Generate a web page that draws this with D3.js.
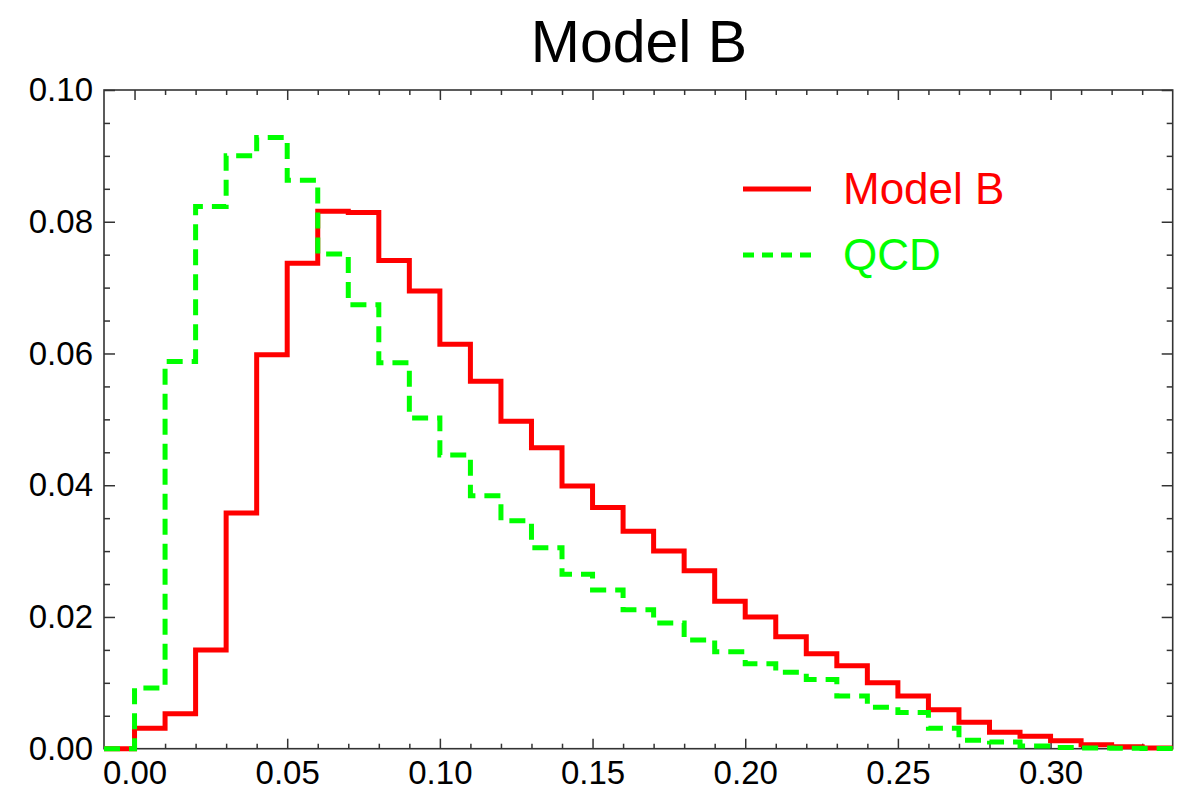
<!DOCTYPE html>
<html>
<head>
<meta charset="utf-8">
<script src="https://cdn.jsdelivr.net/npm/d3@7"></script>
<style>
  body { margin: 0; background: #fff; }
  text { font-family: "Liberation Sans", Arial, sans-serif; }
</style>
</head>
<body>
<div id="chart"></div>
<script>
var svgWidth = 1182;
var svgHeight = 794;

// bin edges start at -0.01, width 0.01
var binStart = -0.01;
var binWidth = 0.01;

var modelB = [0, 0.0031, 0.0053, 0.0150, 0.0358, 0.0598, 0.0737, 0.0816, 0.0814, 0.0741,
  0.0695, 0.0614, 0.0558, 0.0497, 0.0457, 0.0399, 0.0366, 0.0330, 0.0300, 0.0270,
  0.0224, 0.0200, 0.0170, 0.0144, 0.0126, 0.0100, 0.0080, 0.0059, 0.0040, 0.0025,
  0.0019, 0.0012, 0.0006, 0.0003, 0.0001];

var qcd = [0, 0.0092, 0.0588, 0.0823, 0.0900, 0.0928, 0.0863, 0.0751, 0.0674, 0.0586,
  0.0502, 0.0446, 0.0384, 0.0346, 0.0305, 0.0265, 0.0241, 0.0211, 0.0191, 0.0165,
  0.0147, 0.0129, 0.0116, 0.0105, 0.0080, 0.0063, 0.0055, 0.0031, 0.0013, 0.0010,
  0.0004, 0.0002, 0.0001, 0.00005, 0.00003];

var xTicks = [0.00, 0.05, 0.10, 0.15, 0.20, 0.25, 0.30];
var yTicks = [0.00, 0.02, 0.04, 0.06, 0.08, 0.10];

var margin = { top: 90, right: 9.3, bottom: 45.3, left: 104 };
var width = svgWidth - margin.left - margin.right;
var height = svgHeight - margin.top - margin.bottom;

var svg = d3.select("#chart")
  .append("svg")
  .attr("width", svgWidth)
  .attr("height", svgHeight);

var chartGroup = svg.append("g")
  .attr("transform", `translate(${margin.left}, ${margin.top})`);

var xScale = d3.scaleLinear().domain([-0.01, 0.34]).range([0, width]);
var yScale = d3.scaleLinear().domain([0, 0.10]).range([height, 0]);

// minor ticks
var xMinor = d3.range(0, 34).map(d => d * 0.01).filter(d => Math.round(d * 100) % 5 !== 0);
var yMinor = d3.range(1, 20).map(d => d * 0.005).filter(d => Math.round(d * 1000) % 20 !== 0);

var axisColor = "#333";

function addTicks(axis, ticks, size) {
  axis.tickValues(ticks).tickSizeInner(size).tickSizeOuter(0).tickFormat("");
  return axis;
}

// bottom axis with labels
var bottom = chartGroup.append("g")
  .attr("transform", `translate(0, ${height})`)
  .call(d3.axisBottom(xScale).tickValues(xTicks).tickSizeInner(-10).tickSizeOuter(0)
    .tickPadding(12).tickFormat(d3.format(".2f")));
bottom.selectAll("text").attr("font-size", 33).attr("fill", "#000");
chartGroup.append("g")
  .attr("transform", `translate(0, ${height})`)
  .call(addTicks(d3.axisBottom(xScale), xMinor, -5));

// left axis with labels
var left = chartGroup.append("g")
  .call(d3.axisLeft(yScale).tickValues(yTicks).tickSizeInner(-11).tickSizeOuter(0)
    .tickPadding(11).tickFormat(d3.format(".2f")));
left.selectAll("text").attr("font-size", 33).attr("fill", "#000");
chartGroup.append("g")
  .call(addTicks(d3.axisLeft(yScale), yMinor, -6));

// top and right ticks
chartGroup.append("g").call(addTicks(d3.axisTop(xScale), xTicks, -10));
chartGroup.append("g").call(addTicks(d3.axisTop(xScale), xMinor, -5));
chartGroup.append("g").attr("transform", `translate(${width}, 0)`)
  .call(addTicks(d3.axisRight(yScale), yTicks, -11));
chartGroup.append("g").attr("transform", `translate(${width}, 0)`)
  .call(addTicks(d3.axisRight(yScale), yMinor, -6));

chartGroup.selectAll(".domain").remove();
chartGroup.selectAll(".tick line").attr("stroke", axisColor).attr("stroke-width", 1.5);

// frame
chartGroup.append("rect")
  .attr("x", 0).attr("y", 0)
  .attr("width", width).attr("height", height)
  .attr("fill", "none")
  .attr("stroke", axisColor)
  .attr("stroke-width", 1.6);

// step histogram lines
function stepPoints(vals) {
  var pts = vals.map((v, i) => [binStart + i * binWidth, v]);
  pts.push([binStart + vals.length * binWidth, vals[vals.length - 1]]);
  return pts;
}

var stepLine = d3.line()
  .x(d => xScale(d[0]))
  .y(d => yScale(d[1]))
  .curve(d3.curveStepAfter);

chartGroup.append("path")
  .attr("d", stepLine(stepPoints(modelB)))
  .attr("fill", "none")
  .attr("stroke", "#ff0000")
  .attr("stroke-width", 5);

chartGroup.append("path")
  .attr("d", stepLine(stepPoints(qcd)))
  .attr("fill", "none")
  .attr("stroke", "#00ff00")
  .attr("stroke-width", 5)
  .attr("stroke-dasharray", "16,9");

// title
svg.append("text")
  .attr("x", 639)
  .attr("y", 62)
  .attr("text-anchor", "middle")
  .attr("font-size", 59)
  .attr("fill", "#000")
  .text("Model B");

// legend
var legend = svg.append("g");
legend.append("line")
  .attr("x1", 743).attr("x2", 811)
  .attr("y1", 189).attr("y2", 189)
  .attr("stroke", "#ff0000").attr("stroke-width", 5);
legend.append("text")
  .attr("x", 843).attr("y", 204)
  .attr("font-size", 44)
  .attr("fill", "#ff0000")
  .text("Model B");
legend.append("line")
  .attr("x1", 743).attr("x2", 811)
  .attr("y1", 255).attr("y2", 255)
  .attr("stroke", "#00ff00").attr("stroke-width", 5)
  .attr("stroke-dasharray", "11,8");
legend.append("text")
  .attr("x", 843).attr("y", 270)
  .attr("font-size", 44)
  .attr("fill", "#00ff00")
  .text("QCD");
</script>
</body>
</html>
